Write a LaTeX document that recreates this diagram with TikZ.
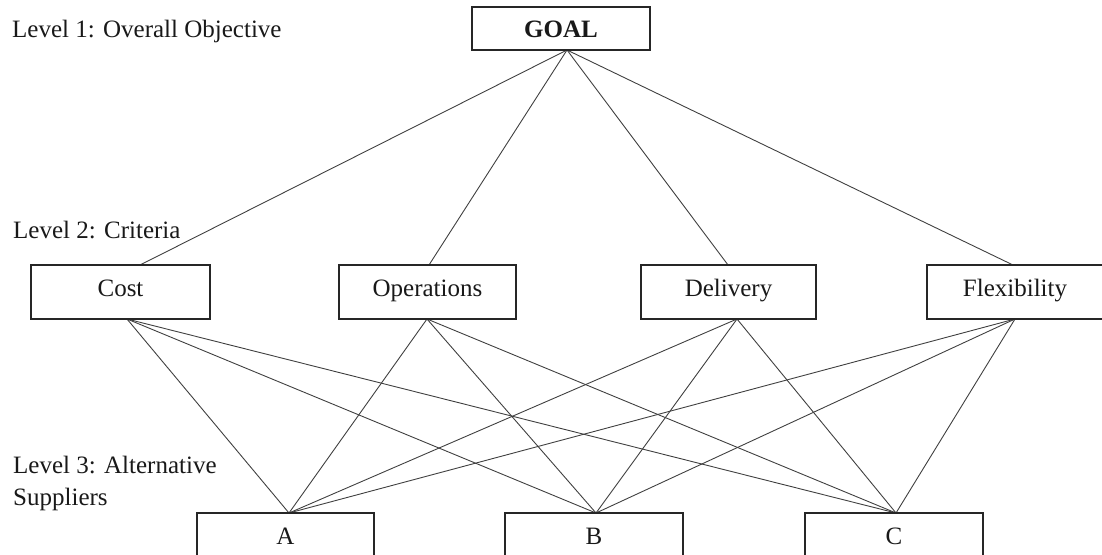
\documentclass[tikz,border=0pt]{standalone}
\usepackage{fontspec}
\setmainfont{Liberation Serif}
\begin{document}
\begin{tikzpicture}[x=1pt,y=-1pt,
  every node/.style={font=\fontsize{25}{30}\selectfont, text=black!90},
  box/.style={draw=black!85, line width=1.4pt, fill=white, inner sep=0pt},
  goalrow/.style={box, text height=22pt, text depth=4pt},
  critrow/.style={box, text height=14pt, text depth=6pt},
  altrow/.style={box, text height=20pt, text depth=4pt},
  link/.style={draw=black!75, line width=0.9pt},
  lvl/.style={anchor=base west, inner sep=0pt}]
\useasboundingbox (0,0) rectangle (1102,554);
\clip (0,0) rectangle (1102,554);
% labels
\node[lvl] (l1) at (12,37) {Level 1: Overall Objective};
\node[lvl] (l2) at (13,238) {Level 2: Criteria};
\node[lvl] (l3a) at (13,473) {Level 3: Alternative};
\node[lvl] (l3b) at (13,505) {Suppliers};
% connection points
\coordinate (g) at (567,50);
\coordinate (ct) at (140,265);  \coordinate (cb) at (127,319);
\coordinate (ot) at (429,265);  \coordinate (ob) at (427,319);
\coordinate (dt) at (728,265);  \coordinate (db) at (737,319);
\coordinate (ft) at (1013,265); \coordinate (fb) at (1015,319);
\coordinate (at) at (289,513);
\coordinate (bt) at (596,513);
\coordinate (cct) at (896,513);
% links
\foreach \t in {ct,ot,dt,ft} \draw[link] (g) -- (\t);
\foreach \s in {cb,ob,db,fb} \foreach \t in {at,bt,cct} \draw[link] (\s) -- (\t);
% boxes
\node[goalrow, minimum width=178pt, minimum height=43pt, font=\fontsize{25}{30}\selectfont\bfseries] (goal) at (561,28.5) {GOAL};
\node[critrow, minimum width=179pt, minimum height=54pt] (cost) at (120.5,292) {Cost};
\node[critrow, minimum width=177pt, minimum height=54pt] (ops) at (427.5,292) {Operations};
\node[critrow, minimum width=175pt, minimum height=54pt] (del) at (728.5,292) {Delivery};
\node[critrow, minimum width=176pt, minimum height=54pt] (flex) at (1015,292) {Flexibility};
\node[altrow, minimum width=177pt, minimum height=46pt] (a) at (285.5,536) {A};
\node[altrow, minimum width=178pt, minimum height=46pt] (b) at (594,536) {B};
\node[altrow, minimum width=178pt, minimum height=46pt] (c) at (894,536) {C};
\end{tikzpicture}
\end{document}
